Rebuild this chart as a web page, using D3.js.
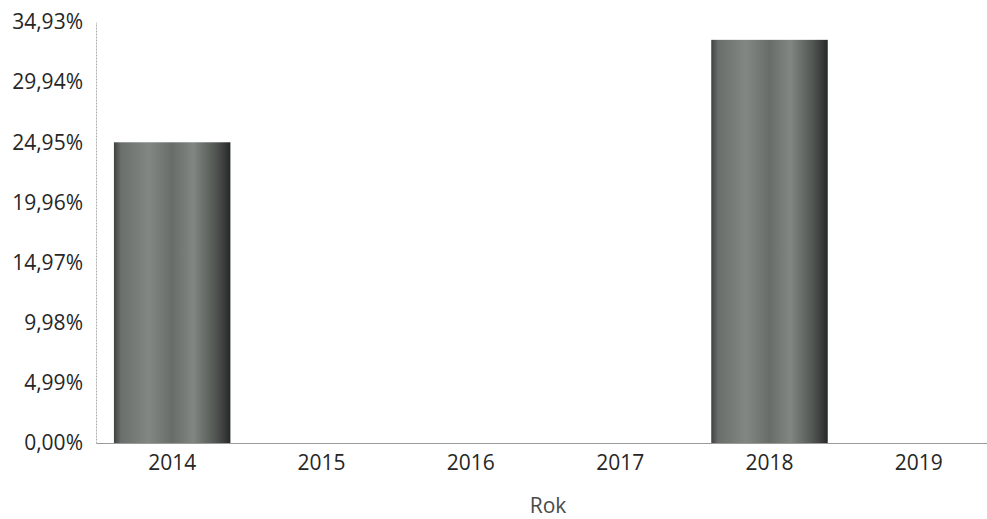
<!DOCTYPE html>
<html>
<head>
<meta charset="utf-8">
<script src="https://cdn.jsdelivr.net/npm/d3@7"></script>
<style>
  body { margin: 0; background: #fff; }
  text { font-family: "Open Sans", "Noto Sans", sans-serif; }
</style>
</head>
<body>
<div id="chart"></div>
<script>
// Data
const years = ["2014", "2015", "2016", "2017", "2018", "2019"];
const shares = [24.95, 0, 0, 0, 33.45, 0];
const yTicks = [0, 4.99, 9.98, 14.97, 19.96, 24.95, 29.94, 34.93];

const dimensions = { width: 987, height: 519 };
const margins = { top: 22, right: -8, bottom: 76, left: 96 };
const ctrWidth = dimensions.width - margins.left - margins.right;
const ctrHeight = dimensions.height - margins.top - margins.bottom;

const svg = d3.select("#chart")
  .append("svg")
  .attr("width", dimensions.width)
  .attr("height", dimensions.height);

// bar fill, scanned grey look
const grad = svg.append("defs").append("linearGradient")
  .attr("id", "barFill")
  .attr("x1", "0%").attr("x2", "100%").attr("y1", "0%").attr("y2", "0%");
[[0, "#3f4240"], [0.06, "#6a6f6c"], [0.3, "#828784"], [0.5, "#686d6a"],
 [0.68, "#818683"], [0.86, "#555956"], [0.95, "#393b3a"], [1, "#262827"]]
  .forEach(([o, c]) => grad.append("stop").attr("offset", o).attr("stop-color", c));

const ctr = svg.append("g")
  .attr("transform", `translate(${margins.left}, ${margins.top})`);

// Scales
const xScale = d3.scaleBand()
  .domain(years)
  .range([0, ctrWidth])
  .paddingInner(0.22)
  .paddingOuter(0.12);

const yScale = d3.scaleLinear()
  .domain([0, 34.93])
  .range([ctrHeight, 0]);

// Bars
ctr.selectAll("rect.bar")
  .data(years.map((y, i) => ({ year: y, value: shares[i] })))
  .join("rect")
  .attr("class", "bar")
  .attr("x", (d) => xScale(d.year))
  .attr("y", (d) => yScale(d.value))
  .attr("width", xScale.bandwidth())
  .attr("height", (d) => ctrHeight - yScale(d.value))
  .attr("fill", "url(#barFill)");

// Axes
const fmt = (d) => d.toFixed(2).replace(".", ",") + "%";
const yAxis = d3.axisLeft(yScale)
  .tickValues(yTicks)
  .tickFormat(fmt)
  .tickSize(0)
  .tickPadding(13);
const yAxisG = ctr.append("g").call(yAxis);
yAxisG.select(".domain").attr("stroke", "#b0b0b0").attr("stroke-dasharray", "2,1");
yAxisG.selectAll("text")
  .attr("font-size", 21)
  .attr("fill", "#262626");

const xAxis = d3.axisBottom(xScale).tickSize(0).tickPadding(12);
const xAxisG = ctr.append("g")
  .attr("transform", `translate(0, ${ctrHeight})`)
  .call(xAxis);
xAxisG.select(".domain").attr("stroke", "#9a9a9a");
xAxisG.selectAll("text")
  .attr("font-size", 21)
  .attr("fill", "#262626");

// Axis title
ctr.append("text")
  .attr("x", 548 - margins.left)
  .attr("y", ctrHeight + 70)
  .attr("text-anchor", "middle")
  .attr("font-size", 21)
  .attr("fill", "#4a4a4a")
  .text("Rok");
</script>
</body>
</html>
